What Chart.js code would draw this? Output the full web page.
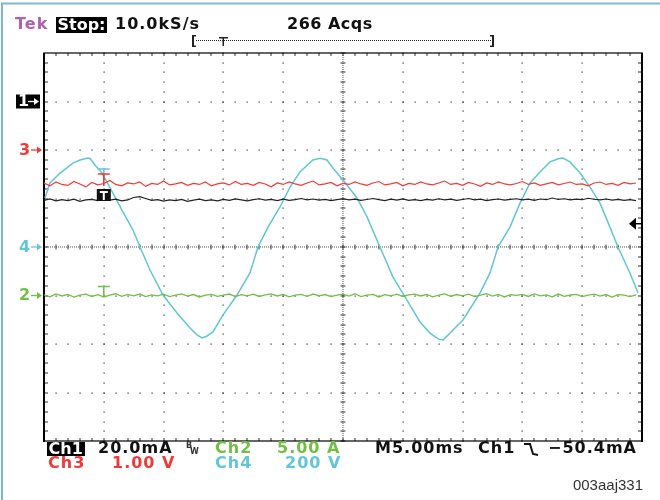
<!DOCTYPE html>
<html>
<head>
<meta charset="utf-8">
<script src="https://cdn.jsdelivr.net/npm/chart.js@4/dist/chart.umd.min.js"></script>
<style>
  html, body { margin: 0; padding: 0; background: #fff; }
  #wrap { width: 660px; height: 500px; position: relative; }
</style>
</head>
<body>
<div id="wrap"><canvas id="scope" width="660" height="500"></canvas></div>
<script>
// Channel settings (per division) and marker offsets (divisions from centre)
const chScale = { ch1: 20.0, ch2: 5.00, ch3: 1.00, ch4: 200 };
const chOffset = { ch1: 3, ch2: -1, ch3: 2, ch4: 0 };
const trigTimeMs = 5;
const trigLevelMa = -50.4;

// sample step for the flat noisy traces (ms)
const noiseStep = 0.5;

// Ch3 (red), volts
const ch3Volts = [
  -0.68,-0.74,-0.66,-0.71,-0.73,-0.65,-0.70,-0.76,-0.67,-0.72,
  -0.69,-0.63,-0.71,-0.74,-0.68,-0.70,-0.66,-0.75,-0.69,-0.71,
  -0.64,-0.72,-0.70,-0.67,-0.73,-0.69,-0.71,-0.66,-0.74,-0.70,
  -0.68,-0.72,-0.65,-0.71,-0.69,-0.73,-0.67,-0.70,-0.76,-0.68,
  -0.71,-0.66,-0.70,-0.73,-0.68,-0.64,-0.72,-0.70,-0.67,-0.74,
  -0.69,-0.71,-0.66,-0.70,-0.73,-0.68,-0.65,-0.72,-0.70,-0.67,
  -0.74,-0.69,-0.71,-0.66,-0.70,-0.72,-0.68,-0.64,-0.71,-0.69,
  -0.73,-0.67,-0.70,-0.75,-0.68,-0.71,-0.66,-0.70,-0.72,-0.69,
  -0.65,-0.71,-0.68,-0.73,-0.70,-0.67,-0.72,-0.69,-0.66,-0.71,
  -0.70,-0.74,-0.68,-0.66,-0.71,-0.69,-0.73,-0.67,-0.70,-0.68
];

// Ch1 (black), mA
const ch1Milliamps = [
  -40.8,-40.2,-41.0,-40.5,-40.9,-40.3,-41.2,-40.6,-40.4,-40.9,
  -40.1,-40.7,-40.3,-41.0,-40.6,-39.6,-39.2,-40.0,-40.8,-40.5,
  -41.1,-40.6,-40.9,-40.4,-41.2,-40.7,-40.3,-40.9,-40.6,-41.0,
  -40.4,-40.8,-40.2,-40.6,-41.0,-40.5,-40.1,-40.7,-40.4,-40.9,
  -40.3,-40.8,-40.5,-40.0,-40.6,-40.2,-40.7,-40.4,-40.9,-40.5,
  -40.1,-40.6,-40.3,-40.8,-40.4,-40.0,-40.5,-40.9,-40.3,-40.7,
  -40.2,-40.8,-40.5,-40.9,-40.4,-40.7,-40.1,-40.6,-40.3,-40.8,
  -40.4,-40.0,-40.6,-40.3,-40.9,-40.5,-40.2,-40.7,-40.4,-40.1,
  -40.6,-40.3,-40.8,-40.2,-40.5,-39.8,-40.4,-40.1,-40.6,-40.3,
  -40.5,-39.9,-40.3,-40.6,-40.2,-40.7,-40.4,-40.8,-40.5,-40.9
];

// Ch2 (green), A
const ch2Amps = [
  0.07,-0.14,0.16,-0.05,0.11,-0.16,0.03,0.14,-0.10,0.08,
  -0.15,0.05,0.18,-0.08,0.12,-0.04,0.15,-0.12,0.07,-0.03,
  0.14,-0.11,0.04,0.16,-0.07,0.10,-0.15,0.05,0.12,-0.08,
  0.03,0.15,-0.12,0.08,-0.04,0.14,-0.10,0.07,0.16,-0.05,
  0.11,-0.14,0.04,0.12,-0.08,0.15,-0.03,0.10,-0.12,0.05,
  0.14,-0.07,0.18,-0.11,0.03,0.12,-0.15,0.08,-0.04,0.14,
  -0.10,0.07,0.15,-0.05,0.11,-0.14,0.04,0.16,-0.08,0.10,
  -0.03,0.14,-0.12,0.05,0.19,-0.07,0.11,-0.15,0.08,0.01,
  0.12,-0.10,0.16,-0.04,0.07,-0.14,0.15,-0.08,0.05,0.11,
  -0.12,0.04,0.14,-0.07,0.10,-0.16,0.08,0.03,-0.11,0.07
];

// Ch4 (cyan) mains voltage, time in ms and volts
const ch4TimeMs = [
  0.08, 0.5, 1.34, 2.42, 3.01, 3.68, 3.85, 4.26, 4.85, 5.27, 5.94, 6.61, 7.44, 8.03, 8.86, 9.95,
  11.12, 12.21, 12.8, 13.21, 13.6, 14.13, 14.97, 16.14, 17.22, 17.89, 18.73, 19.73, 20.57, 21.4,
  22.49, 23.1, 23.66, 24.16, 25.0, 26.17, 27.01, 28.09, 29.18, 30.35, 31.44, 32.27, 33.0, 33.36,
  34.2, 35.03, 36.45, 37.29, 37.96, 38.96, 39.8, 40.64, 41.47, 42.31, 43.0, 43.39, 43.98, 44.82,
  45.65, 46.49, 47.32, 47.99, 48.99, 49.67
];
const ch4Volts = [
  202, 264, 305, 346, 359, 367, 365, 338, 305, 268, 206, 144, 70, 0, -95, -198,
  -272, -334, -362, -375, -368, -350, -280, -198, -107, 0, 82, 165, 247, 309,
  359, 366, 359, 326, 276, 202, 124, 0, -124, -219, -309, -355, -380, -384,
  -342, -301, -190, -107, 0, 82, 181, 264, 309, 351, 364, 367, 351, 305,
  247, 181, 82, 0, -107, -190
];

function toDiv(times, vals, ch) {
  return vals.map((v, i) => ({ x: times ? times[i] : i * noiseStep, y: v / chScale[ch] + chOffset[ch] }));
}

const FONT = 'bold 16px "DejaVu Sans"';
const COL = { ch1: '#1a1a1a', ch2: '#72bf44', ch3: '#ef3a3a', ch4: '#62c6d6', tek: '#b25fae' };

function txt(ctx, s, x, y, color, font, align, spacing) {
  ctx.font = font || FONT;
  ctx.fillStyle = color;
  ctx.textAlign = align || 'left';
  ctx.textBaseline = 'middle';
  ctx.letterSpacing = spacing || (font ? '0px' : '1px');
  ctx.fillText(s, x, y);
  ctx.letterSpacing = '0px';
}

function boxTxt(ctx, s, x0, y0, x1, y1) {
  ctx.fillStyle = '#000';
  ctx.fillRect(x0, y0, x1 - x0, y1 - y0);
  txt(ctx, s, x0 + 1.5, (y0 + y1) / 2 + 0.5, '#fff', null, 'left', '0px');
}

const scopeGrid = {
  id: 'scopeGrid',
  beforeDatasetsDraw(chart) {
    const ctx = chart.ctx;
    const xs = chart.scales.x, ys = chart.scales.y;
    const px = d => xs.getPixelForValue(d * 5);
    const py = d => ys.getPixelForValue(d);
    const L = px(0), R = px(10), T = py(4), B = py(-4);
    ctx.save();
    ctx.fillStyle = '#333';
    // dotted major lines, a dot at every minor division
    for (let i = 1; i < 10; i++) {
      if (i === 5) continue;
      for (let j = -20; j <= 20; j++) ctx.fillRect(Math.round(px(i)) - 0.5, Math.round(py(j / 5)) - 0.5, 1.2, 1.2);
    }
    for (let k = -3; k <= 3; k++) {
      if (k === 0) continue;
      for (let m = 0; m <= 50; m++) ctx.fillRect(Math.round(px(m / 5)) - 0.5, Math.round(py(k)) - 0.5, 1.2, 1.2);
    }
    // centre cross: dense dots plus minor ticks
    const cx = Math.round(px(5)), cy = Math.round(py(0));
    ctx.fillStyle = '#555';
    for (let y = T; y <= B; y += 2) ctx.fillRect(cx - 0.5, y, 1, 1);
    for (let x = L; x <= R; x += 2) ctx.fillRect(x, cy - 0.5, 1, 1);
    ctx.fillStyle = '#333';
    for (let j = -20; j <= 20; j++) ctx.fillRect(cx - 2.5, Math.round(py(j / 5)) - 0.5, 5, 1);
    for (let m = 0; m <= 50; m++) ctx.fillRect(Math.round(px(m / 5)) - 0.5, cy - 2.5, 1, 5);
    // edge ticks
    for (let m = 1; m < 50; m++) {
      const x = Math.round(px(m / 5)) - 0.5;
      ctx.fillRect(x, T, 1, 3);
      ctx.fillRect(x, B - 3, 1, 3);
    }
    for (let j = -19; j < 20; j++) {
      const y = Math.round(py(j / 5)) - 0.5;
      ctx.fillRect(L, y, 4, 1);
      ctx.fillRect(R - 4, y, 4, 1);
    }
    // frame
    ctx.strokeStyle = '#000';
    ctx.lineWidth = 1.2;
    ctx.strokeRect(L, T, R - L, B - T);
    ctx.lineWidth = 2;
    ctx.beginPath();
    ctx.moveTo(L, T); ctx.lineTo(L, B + 1);
    ctx.moveTo(R, T); ctx.lineTo(R, B + 1);
    ctx.stroke();
    ctx.restore();
  },
  afterDraw(chart) {
    const ctx = chart.ctx;
    const xs = chart.scales.x, ys = chart.scales.y;
    const py = d => ys.getPixelForValue(d);
    ctx.save();
    // outer frame of the figure
    ctx.strokeStyle = '#7db9c9';
    ctx.lineWidth = 2;
    ctx.beginPath();
    ctx.moveTo(2, 500); ctx.lineTo(2, 3.5); ctx.lineTo(660, 3.5);
    ctx.stroke();

    // channel ground markers on the left
    const y1 = py(chOffset.ch1);
    ctx.fillStyle = '#000';
    ctx.fillRect(16, y1 - 7, 24, 14);
    txt(ctx, '1', 18, y1 + 0.5, '#fff');
    const arrow = (x, y, color) => {
      ctx.strokeStyle = color; ctx.fillStyle = color; ctx.lineWidth = 1.3;
      ctx.beginPath(); ctx.moveTo(x, y); ctx.lineTo(x + 8, y); ctx.stroke();
      ctx.beginPath(); ctx.moveTo(x + 11, y); ctx.lineTo(x + 6, y - 3.5); ctx.lineTo(x + 6, y + 3.5); ctx.closePath(); ctx.fill();
    };
    arrow(28, y1, '#fff');
    [['ch3', '3'], ['ch4', '4'], ['ch2', '2']].forEach(([ch, lab]) => {
      const y = py(chOffset[ch]);
      txt(ctx, lab, 19, y + 0.5, COL[ch]);
      arrow(31, y, COL[ch]);
    });

    // trigger position markers on each trace
    const tx = xs.getPixelForValue(trigTimeMs);
    const tee = (yTop, yBot, color) => {
      ctx.strokeStyle = color; ctx.lineWidth = 1.6;
      ctx.beginPath();
      ctx.moveTo(tx - 6, yTop); ctx.lineTo(tx + 6, yTop);
      ctx.moveTo(tx, yTop); ctx.lineTo(tx, yBot);
      ctx.stroke();
    };
    tee(169, 178, COL.ch4);
    tee(174, 186, COL.ch3);
    tee(py(chOffset.ch2) - 9, py(chOffset.ch2), COL.ch2);
    ctx.fillStyle = '#111';
    ctx.fillRect(tx - 7, 189, 14, 12);
    ctx.strokeStyle = '#fff'; ctx.lineWidth = 2;
    ctx.beginPath();
    ctx.moveTo(tx - 4, 192); ctx.lineTo(tx + 4, 192);
    ctx.moveTo(tx, 192); ctx.lineTo(tx, 200);
    ctx.stroke();

    // trigger level arrow at right
    const ty = py(trigLevelMa / chScale.ch1 + chOffset.ch1);
    const R = xs.getPixelForValue(50);
    ctx.fillStyle = '#000'; ctx.strokeStyle = '#000'; ctx.lineWidth = 1.5;
    ctx.beginPath(); ctx.moveTo(R - 13, ty); ctx.lineTo(R - 6, ty - 6); ctx.lineTo(R - 6, ty + 6); ctx.closePath(); ctx.fill();
    ctx.beginPath(); ctx.moveTo(R - 7, ty); ctx.lineTo(R, ty); ctx.stroke();

    // header
    txt(ctx, 'Tek', 15, 25, COL.tek);
    boxTxt(ctx, 'Stop:', 56, 17, 107, 33);
    txt(ctx, '10.0kS/s', 115, 25, '#111');
    txt(ctx, '266 Acqs', 287, 25, '#111', null, 'left', '0.5px');
    // record position bracket
    ctx.fillStyle = '#222';
    ctx.fillRect(192, 35, 2, 12); ctx.fillRect(192, 35, 4, 1.5); ctx.fillRect(192, 45.5, 4, 1.5);
    ctx.fillRect(492, 35, 2, 12); ctx.fillRect(490, 35, 4, 1.5); ctx.fillRect(490, 45.5, 4, 1.5);
    for (let x = 196; x < 491; x += 2) ctx.fillRect(x, 40, 1, 1);
    ctx.fillRect(219, 37, 9, 1.5); ctx.fillRect(222.5, 37, 1.5, 9);

    // footer readouts
    const r1 = 449, r2 = 464;
    boxTxt(ctx, 'Ch1', 47, 442, 85, 456);
    txt(ctx, '20.0mA', 98, r1, '#111');
    txt(ctx, 'B', 186, 446, '#333', 'bold 8px "DejaVu Sans"');
    txt(ctx, 'W', 190, 452, '#333', 'bold 8px "DejaVu Sans"');
    txt(ctx, 'Ch2', 215, r1, COL.ch2);
    txt(ctx, '5.00 A', 277, r1, COL.ch2);
    txt(ctx, 'M5.00ms', 375, r1, '#111');
    txt(ctx, 'Ch1', 478, r1, '#111');
    ctx.strokeStyle = '#111'; ctx.lineWidth = 2;
    ctx.beginPath(); ctx.moveTo(524, 444); ctx.lineTo(530, 444); ctx.lineTo(533, 454); ctx.lineTo(538, 455); ctx.stroke();
    txt(ctx, '\u221250.4mA', 548, r1, '#111');
    txt(ctx, 'Ch3', 48, r2, COL.ch3);
    txt(ctx, '1.00 V', 112, r2, COL.ch3);
    txt(ctx, 'Ch4', 215, r2, COL.ch4);
    txt(ctx, '200 V', 285, r2, COL.ch4);
    txt(ctx, '003aaj331', 643, 486, '#333', '15px "Liberation Sans"', 'right');
    ctx.restore();
  }
};

const trace = (label, data, color, width) => ({
  label, data, borderColor: color, borderWidth: width, pointRadius: 0, tension: 0, fill: false
});

new Chart(document.getElementById('scope'), {
  type: 'line',
  data: {
    datasets: [
      trace('Ch2', toDiv(null, ch2Amps, 'ch2'), COL.ch2, 1.3),
      trace('Ch1', toDiv(null, ch1Milliamps, 'ch1'), '#222', 1.2),
      trace('Ch3', toDiv(null, ch3Volts, 'ch3'), COL.ch3, 1.2),
      trace('Ch4', toDiv(ch4TimeMs, ch4Volts, 'ch4'), COL.ch4, 1.5)
    ]
  },
  options: {
    responsive: false,
    animation: false,
    parsing: false,
    layout: { padding: { left: 44, top: 53, right: 18, bottom: 59 } },
    scales: {
      x: { type: 'linear', min: 0, max: 50, display: false },
      y: { type: 'linear', min: -4, max: 4, display: false }
    },
    plugins: { legend: { display: false }, tooltip: { enabled: false } }
  },
  plugins: [scopeGrid]
});
</script>
</body>
</html>
